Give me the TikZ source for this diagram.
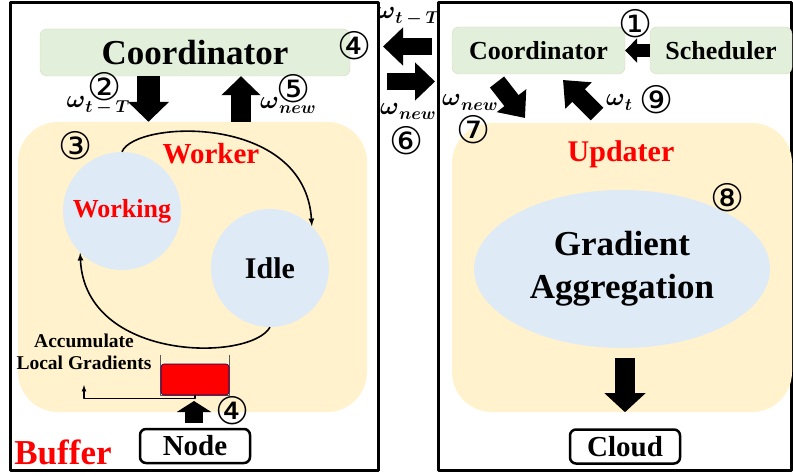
\documentclass[tikz,border=0pt]{standalone}
\usepackage{fontspec}
\setmainfont{Liberation Serif}
\newfontfamily\circfont{DejaVu Sans}
\usepackage{bm}
\usetikzlibrary{arrows.meta,shapes.geometric}
\definecolor{zoneyellow}{HTML}{FFF2CC}
\definecolor{ctrlgreen}{HTML}{E2EFDA}
\definecolor{stateblue}{HTML}{DEEBF7}
\newcommand{\wlab}[1]{$\bm{\omega}$\raisebox{-5pt}{\fontsize{19}{20}\selectfont$\bm{#1}$}}
\tikzset{
  zone/.style={fill=zoneyellow, rounded corners=40pt, inner sep=0pt},
  ctrlbox/.style={fill=ctrlgreen, draw=ctrlgreen!60!zoneyellow!90!black, rounded corners=7pt, inner sep=0pt},
  state/.style={circle, fill=stateblue, minimum size=118pt, inner sep=0pt},
  endbox/.style={draw, line width=2.5pt, rounded corners=6pt, minimum width=110pt, minimum height=34pt, inner sep=0pt, font=\bfseries\fontsize{29}{32}\selectfont},
  fatarrow/.style n args={3}{line width=#1, -{Triangle[length=#2,width=#3]}},
  num/.style={font=\circfont\fontsize{38}{38}\selectfont, inner sep=0pt},
  wlabel/.style={font=\fontsize{28}{30}\selectfont, inner sep=0pt},
}
\begin{document}
\begin{tikzpicture}[x=1pt,y=-1pt,>=latex,line join=bevel]
  \useasboundingbox (0,0) rectangle (793,476);
  % Frames
  \draw[line width=3pt] (10,3) rectangle (378,470);
  \draw[line width=3pt] (438,3) rectangle (791,470);
  % Node: Worker zone, Updater zone
  \node[zone, minimum width=349pt, minimum height=290pt] (worker) at (192.5,267) {};
  \node[zone, minimum width=340pt, minimum height=289pt] (updater) at (622,267.5) {};
  % Node: Coordinators, Scheduler
  \node[ctrlbox, minimum width=310pt, minimum height=47pt, font=\bfseries\fontsize{35}{40}\selectfont] (lcoord) at (195,52.5) {Coordinator};
  \node[ctrlbox, minimum width=173pt, minimum height=47pt, font=\bfseries\fontsize{26}{30}\selectfont] (rcoord) at (538.5,50.5) {Coordinator};
  \node[ctrlbox, minimum width=142pt, minimum height=47pt, font=\bfseries\fontsize{26}{30}\selectfont] (sched) at (721,50.5) {Scheduler};
  % Node: Working, Idle
  \node[state, text=red, font=\bfseries\fontsize{26}{30}\selectfont] (working) at (122,211) {Working};
  \node[state, font=\bfseries\fontsize{30}{34}\selectfont] (idle) at (270,268) {Idle};
  \node[text=red, font=\bfseries\fontsize{29}{32}\selectfont] (workerlbl) at (211,154) {Worker};
  % Node: Gradient Aggregation
  \node[ellipse, fill=stateblue, minimum width=296pt, minimum height=158pt, inner sep=0pt, align=center, font=\bfseries\fontsize{35}{43}\selectfont] (gradagg) at (622,269) {Gradient\\Aggregation};
  \node[text=red, font=\bfseries\fontsize{30}{34}\selectfont] (updlbl) at (621,154) {Updater};
  % Node: Buffer queue
  \draw[gray!70!black, line width=0.8pt] (160,355) -- (160,395) -- (229,395) -- (229,355);
  \node[fill=red, draw=blue!40!black, line width=0.6pt, rounded corners=3pt, minimum width=68pt, minimum height=31pt, inner sep=0pt] (queue) at (195,379.5) {};
  \node[align=center, font=\bfseries\fontsize{19.5}{22}\selectfont, inner sep=0pt] (acctext) at (84,352) {Accumulate\\Local Gradients};
  \coordinate (acctip) at (84,385);
  \node[text=red, font=\bfseries\fontsize{35}{40}\selectfont, inner sep=0pt] (buflbl) at (63,452) {Buffer};
  % Node: Node, Cloud
  \node[endbox] (edge) at (195,446) {Node};
  \node[endbox] (cloud) at (625,446.5) {Cloud};
  % Edge: Working -> Idle
  \draw[->, line width=1.6pt] (working.north) .. controls (135,120) and (305,113) .. (idle.45);
  % Edge: Idle -> Working
  \draw[->, line width=1.6pt] (idle.south) .. controls (250,362) and (85,362) .. (working.225);
  % Edge: Queue -> Accumulate
  \draw[->, line width=1.2pt] (queue.south) -- ++(0,3) -| (acctip);
  % Edge: Node -> Queue
  \draw[fatarrow={18pt}{11pt}{34pt}] (194,423) -- (194,401);
  % Edge: Coordinator -> Worker, Worker -> Coordinator
  \draw[fatarrow={23pt}{20pt}{40pt}] (lcoord.south -| 148.5,0) -- (worker.north -| 148.5,0);
  \draw[fatarrow={20pt}{19pt}{38pt}] (worker.north -| 241,0) -- (lcoord.south -| 241,0);
  % Edge: between the two sides
  \coordinate (gapa) at (432,46.5);
  \coordinate (gapb) at (383,46.5);
  \coordinate (gapc) at (387,81.5);
  \coordinate (gapd) at (435,81.5);
  \draw[fatarrow={17pt}{20pt}{37pt}] (gapa) -- (gapb);
  \draw[fatarrow={17pt}{20pt}{37pt}] (gapc) -- (gapd);
  % Edge: Scheduler -> Coordinator
  \draw[fatarrow={13pt}{12pt}{24pt}] (sched.west) -- (rcoord.east);
  % Edge: Coordinator -> Updater, Updater -> Coordinator
  \coordinate (diaga) at (497,82);
  \coordinate (diagb) at (525,118);
  \coordinate (diagc) at (597,114);
  \coordinate (diagd) at (563,80);
  \draw[fatarrow={18pt}{22pt}{36pt}] (diaga) -- (diagb);
  \draw[fatarrow={18pt}{22pt}{36pt}] (diagc) -- (diagd);
  % Edge: Updater -> Cloud
  \draw[fatarrow={20pt}{19pt}{40pt}] (625,358) -- (cloud.north |- updater.south);
  % Labels
  \node[num] (n1) at (636,24) {①};
  \node[num] (n2) at (105,87) {②};
  \node[num] (n3) at (76,146) {③};
  \node[num] (n4a) at (355,46) {④};
  \node[num] (n4b) at (233,411) {④};
  \node[num] (n5) at (294,89) {⑤};
  \node[num] (n6) at (407,141) {⑥};
  \node[num] (n7) at (474,130) {⑦};
  \node[num] (n8) at (728,198) {⑧};
  \node[num] (n9) at (657,100) {⑨};
  \node[wlabel] (wl1) at (98,106) {\wlab{t-T}};
  \node[wlabel] (wl2) at (288,105) {\wlab{new}};
  \node[wlabel] (wl3) at (408,17) {\wlab{t-T}};
  \node[wlabel] (wl4) at (408,111) {\wlab{new}};
  \node[wlabel] (wl5) at (470,102) {\wlab{new}};
  \node[wlabel] (wl6) at (619,102) {\wlab{t}};
\end{tikzpicture}
\end{document}
